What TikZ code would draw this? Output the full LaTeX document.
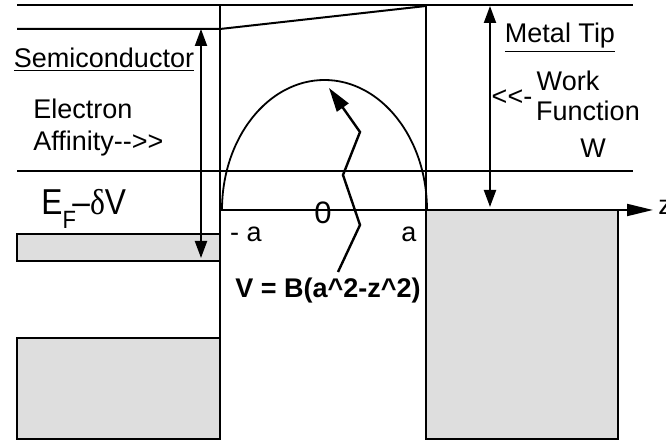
\documentclass[tikz,border=0pt]{standalone}
\usepackage{fontspec}
\setmainfont{Liberation Sans}
\newfontfamily\greekfont{Liberation Serif}
\usetikzlibrary{arrows.meta}
\definecolor{bandgray}{gray}{0.87}

\begin{document}
\begin{tikzpicture}[x=0.5pt,y=-0.5pt,
	every node/.style={font=\fontsize{13.5}{16}\selectfont, inner sep=0pt},
	level/.style={line width=1pt},
	band/.style={draw, line width=1pt, fill=bandgray},
	gap/.style={line width=1pt, {Triangle[length=8.5pt,width=6pt]}-{Triangle[length=8.5pt,width=6pt]}}]
	\useasboundingbox (0,0) rectangle (666,442);
	% levels and interfaces
	\draw[level] (17,5) -- (633,5);
	\draw[level] (17,29) -- (220,29) -- (426,6);
	\draw[level] (17,171) -- (633,171);
	\draw[level] (220,5) -- (220,439);
	\draw[level] (426,5) -- (426,210);
	% bands
	\draw[band] (17,234) rectangle (220,261);
	\draw[band] (17,338) rectangle (220,439);
	\draw[band] (426,210) rectangle (618,439);
	% z axis
	\coordinate (zl) at (220,210);
	\coordinate (zr) at (653,210);
	\draw[level, -{Triangle[length=13pt,width=6pt]}] (zl) -- (zr);
	\node[anchor=west] (z) at (658,207) {z};
	% barrier
	\draw[line width=0.9pt] (222,210) arc[start angle=180, end angle=360, x radius=102.5, y radius=130];
	\coordinate (p0) at (338,272);
	\coordinate (p1) at (360,225);
	\coordinate (p2) at (343,175);
	\coordinate (p3) at (360,132);
	\coordinate (tip) at (329,88);
	\draw[line width=1.2pt, -{Triangle[length=12pt,width=7pt]}] (p0) -- (p1) -- (p2) -- (p3) -- (tip);
	% gaps
	\coordinate (chiT) at (201,29);
	\coordinate (chiB) at (201,258);
	\draw[gap] (chiT) -- (chiB);
	\coordinate (wT) at (490,6);
	\coordinate (wB) at (490,207);
	\draw[gap] (wT) -- (wB);
	% labels
	\node (semi) at (104,60) {\underline{Semiconductor}};
	\node[align=left, anchor=west] (affin) at (33,128) {Electron\\Affinity-{}->{}>};
	\node[anchor=base west] (ef) at (41,215) {\scalebox{0.88}[1]{\fontsize{18}{18}\selectfont E\raisebox{-7pt}{\fontsize{12.5}{12.5}\selectfont F}\hspace{-2pt}–{\greekfont δ}V}};
	\node (metal) at (560,38) {\underline{Metal Tip}};
	\node (ll) at (512,98) {<{}<{}-};
	\node (work) at (568,81) {Work};
	\node (func) at (588,111) {Function};
	\node (ww) at (593,148) {W};
	\node (zero) at (323,213) {\fontsize{15.5}{15.5}\selectfont 0};
	\node (mina) at (246,234) {- a};
	\node (pla) at (409,234) {a};
	\node (pot) at (328,291) {\bfseries V = B(a\textasciicircum 2-z\textasciicircum 2)};
\end{tikzpicture}
\end{document}
